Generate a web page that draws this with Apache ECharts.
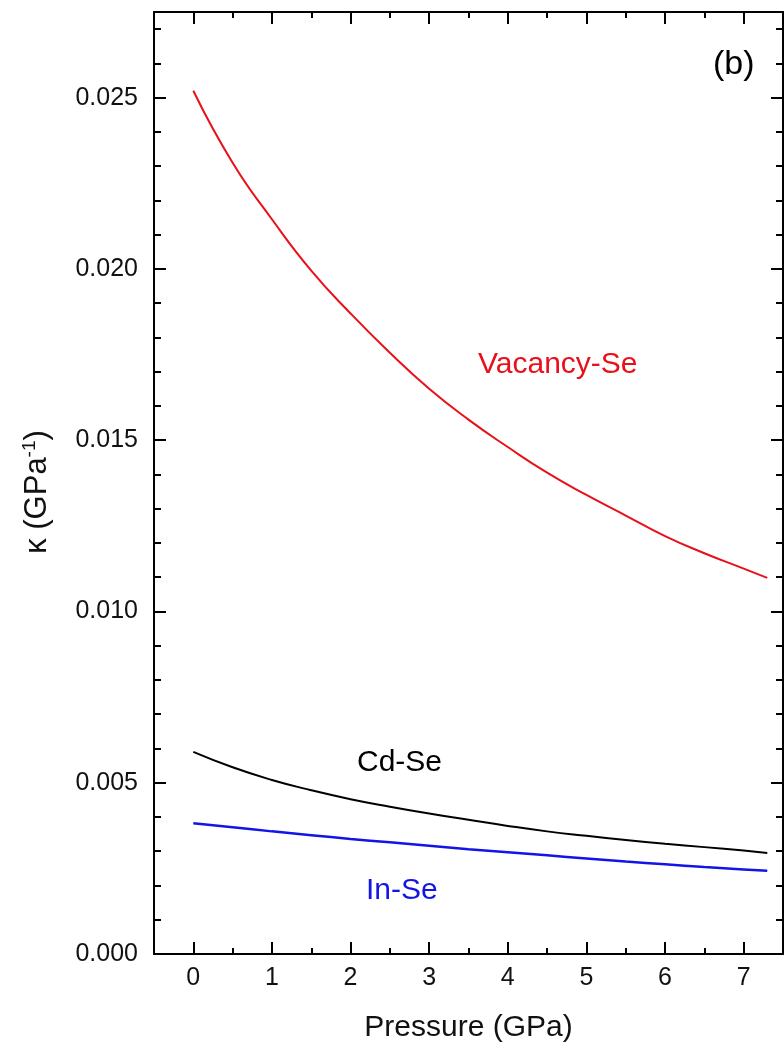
<!DOCTYPE html>
<html>
<head>
<meta charset="utf-8">
<title>kappa vs pressure</title>
<script src="https://cdn.jsdelivr.net/npm/echarts@6/dist/echarts.min.js"></script>
<style>
  html, body { margin: 0; padding: 0; background: #fff; }
  #main { width: 784px; height: 1049px; }
</style>
</head>
<body>
<div id="main"></div>
<script>
// pressure (GPa)
var pressure = [0, 0.5, 1, 1.5, 2, 2.5, 3, 3.5, 4, 4.5, 5, 5.5, 6, 6.5, 7, 7.3];
// compressibility (GPa^-1)
var vacancySe = [0.0252, 0.0231, 0.02145, 0.01995, 0.0187, 0.01755, 0.0165, 0.0156, 0.0148, 0.01405, 0.0134, 0.0128, 0.0122, 0.0117, 0.01125, 0.01098];
var cdSe = [0.0059, 0.00545, 0.00508, 0.00478, 0.00452, 0.0043, 0.0041, 0.00392, 0.00374, 0.00358, 0.00345, 0.00333, 0.00322, 0.00312, 0.00302, 0.00295];
var inSe = [0.00382, 0.0037, 0.00358, 0.00347, 0.00336, 0.00326, 0.00316, 0.00306, 0.00297, 0.00288, 0.00279, 0.0027, 0.00262, 0.00254, 0.00247, 0.00243];

var xTicks = [0, 1, 2, 3, 4, 5, 6, 7];
var xMinor = [0.5, 1.5, 2.5, 3.5, 4.5, 5.5, 6.5];
var yTicks = [0, 0.005, 0.01, 0.015, 0.02, 0.025];
var yMinor = [0.001, 0.002, 0.003, 0.004, 0.006, 0.007, 0.008, 0.009, 0.011, 0.012, 0.013, 0.014,
              0.016, 0.017, 0.018, 0.019, 0.021, 0.022, 0.023, 0.024, 0.026, 0.027];

var font = "'Liberation Sans', Arial, sans-serif";
var ink = '#000';

function pairs(xs, ys) {
  var out = [];
  for (var i = 0; i < xs.length; i++) out.push([xs[i], ys[i]]);
  return out;
}

function xAxisDef(pos, ticks, len, main) {
  return {
    type: 'value', position: pos, min: -0.5, max: 7.5,
    axisLine: { show: main, onZero: false, lineStyle: { color: ink, width: 2 } },
    axisTick: { show: true, inside: true, length: len, customValues: ticks, lineStyle: { color: ink, width: 2 } },
    axisLabel: { show: main && pos === 'bottom', customValues: ticks, margin: 12, color: '#111', fontSize: 25, fontFamily: font },
    splitLine: { show: false }
  };
}

function yAxisDef(pos, ticks, len, main) {
  return {
    type: 'value', position: pos, min: 0, max: 0.0275,
    axisLine: { show: main, onZero: false, lineStyle: { color: ink, width: 2 } },
    axisTick: { show: true, inside: true, length: len, customValues: ticks, lineStyle: { color: ink, width: 2 } },
    axisLabel: {
      show: main && pos === 'left', customValues: ticks, margin: 16, color: '#111', fontSize: 25, fontFamily: font,
      formatter: function (v) { return v.toFixed(3); }
    },
    splitLine: { show: false }
  };
}

var xMain = xAxisDef('bottom', xTicks, 12, true);
xMain.name = 'Pressure (GPa)';
xMain.nameLocation = 'middle';
xMain.nameGap = 59;
xMain.nameTextStyle = { color: '#111', fontSize: 30, fontFamily: font };

var yMain = yAxisDef('left', yTicks, 12, true);
yMain.name = '{a|\u03ba (GPa}{s|-1}{a|)}';
yMain.nameLocation = 'middle';
yMain.nameGap = 99;
yMain.nameTextStyle = {
  color: '#111', fontFamily: font, padding: [0, 18, 0, 0],
  rich: {
    a: { fontSize: 31, fontFamily: font, color: '#111' },
    s: { fontSize: 19, fontFamily: font, color: '#111', padding: [0, 0, 16, 0] }
  }
};

var chart = echarts.init(document.getElementById('main'));
chart.setOption({
  backgroundColor: '#fff',
  animation: false,
  grid: { left: 154, right: 1, top: 12, bottom: 95 },
  xAxis: [
    xMain,
    xAxisDef('bottom', xMinor, 6, false),
    xAxisDef('top', xTicks, 12, true),
    xAxisDef('top', xMinor, 6, false)
  ],
  yAxis: [
    yMain,
    yAxisDef('left', yMinor, 7, false),
    yAxisDef('right', yTicks, 12, true),
    yAxisDef('right', yMinor, 7, false)
  ],
  series: [
    { name: 'Vacancy-Se', type: 'line', smooth: true, showSymbol: false, data: pairs(pressure, vacancySe),
      lineStyle: { color: '#e8101a', width: 2 } },
    { name: 'Cd-Se', type: 'line', smooth: true, showSymbol: false, data: pairs(pressure, cdSe),
      lineStyle: { color: '#000', width: 2 } },
    { name: 'In-Se', type: 'line', smooth: true, showSymbol: false, data: pairs(pressure, inSe),
      lineStyle: { color: '#1414e6', width: 2.5 } }
  ],
  graphic: [
    { type: 'text', left: 478, top: 350, style: { text: 'Vacancy-Se', fill: '#e8101a', font: '30px ' + font } },
    { type: 'text', left: 357, top: 748, style: { text: 'Cd-Se', fill: '#000', font: '30px ' + font } },
    { type: 'text', left: 366, top: 876, style: { text: 'In-Se', fill: '#1414e6', font: '30px ' + font } },
    { type: 'text', left: 713, top: 48, style: { text: '(b)', fill: '#000', font: '34px ' + font } }
  ]
});
</script>
</body>
</html>
